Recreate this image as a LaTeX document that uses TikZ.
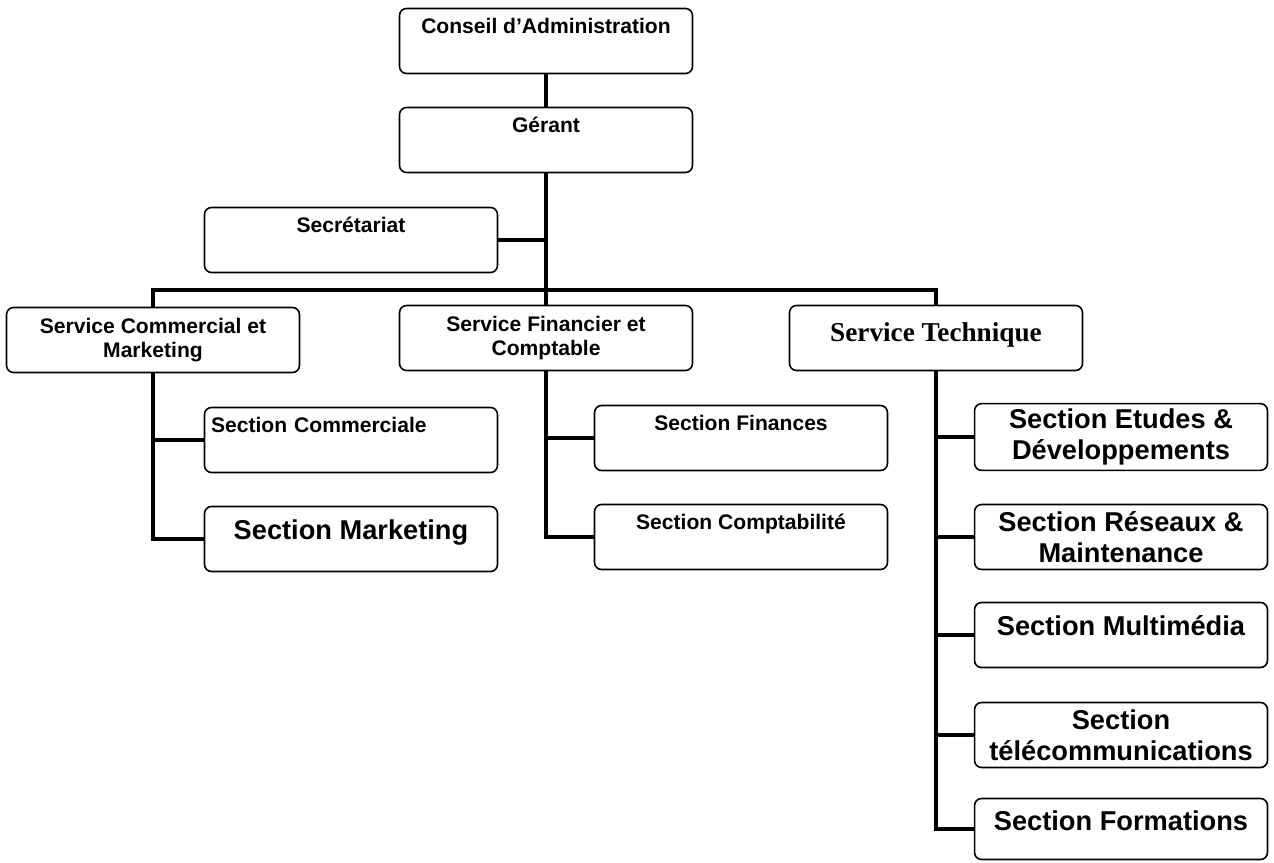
\documentclass[tikz,border=0pt]{standalone}
\usepackage{fontspec}
\setmainfont{Liberation Sans}
\newfontfamily\serifbold{Liberation Serif}
\usetikzlibrary{positioning}

\tikzset{
  orgbox/.style={draw, rounded corners=4pt, line width=0.9pt, minimum width=5.86cm, minimum height=1.3cm,
    inner sep=3pt, align=center, font=\bfseries\fontsize{12}{14}\selectfont},
  bigbox/.style={orgbox, font=\bfseries\fontsize{15.5}{17.5}\selectfont},
  toptext/.style={text height=11.5pt, text depth=19.5pt},
  bigtop/.style={text height=15.5pt, text depth=15.5pt},
  link/.style={line width=2.3pt}
}

\begin{document}
\begin{tikzpicture}[x=0.02cm, y=-0.02cm]
  \useasboundingbox (0,0) rectangle (1274,862);

  % Direction
  \node[orgbox, toptext] (conseil) at (546,41) {Conseil d'Administration};
  \node[orgbox, toptext] (gerant) at (546,140) {Gérant};
  \node[orgbox, toptext] (secretariat) at (351,240) {Secrétariat};
  \coordinate (hub) at (546,290);

  % Services
  \node[orgbox] (commercial) at (153,340) {Service Commercial et\\Marketing};
  \node[orgbox] (financier) at (546,338) {Service Financier et\\Comptable};
  \node[orgbox, text height=17.5pt, text depth=13.5pt, font=\serifbold\bfseries\fontsize{15.5}{17.5}\selectfont] (technique) at (936,338) {Service Technique};

  % Sections of the commercial service
  \node[orgbox, toptext, align=left, text width=5.6cm] (seccom) at (351,440) {Section Commerciale};
  \node[bigbox, bigtop] (secmkt) at (351,539) {Section Marketing};

  % Sections of the financial service
  \node[orgbox, toptext] (secfin) at (741,438) {Section Finances};
  \node[orgbox, toptext] (seccpt) at (741,537) {Section Comptabilité};

  % Sections of the technical service
  \node[bigbox] (etudes) at (1121,437) {Section Etudes \&\\Développements};
  \node[bigbox] (reseaux) at (1121,537) {Section Réseaux \&\\Maintenance};
  \node[bigbox, bigtop] (multimedia) at (1121,635) {Section Multimédia};
  \node[bigbox] (telecom) at (1121,735) {Section\\télécommunications};
  \node[bigbox, minimum height=1.22cm, text height=15pt, text depth=13pt] (formations) at (1121,829) {Section Formations};

  % Links
  \draw[link] (conseil) -- (gerant);
  \draw[link] (gerant) -- (hub);
  \draw[link] (secretariat.east) -- (secretariat.east -| hub);
  \draw[link] (commercial.north) |- (hub) -| (technique.north);
  \draw[link] (hub) -- (financier.north);
  \draw[link] (commercial.south) |- (secmkt.west);
  \draw[link] (seccom.west) -- (seccom.west -| commercial.south);
  \draw[link] (financier.south) |- (seccpt.west);
  \draw[link] (secfin.west) -- (secfin.west -| financier.south);
  \draw[link] (technique.south) |- (formations.west);
  \foreach \sec in {etudes, reseaux, multimedia, telecom}
    \draw[link] (\sec.west) -- (\sec.west -| technique.south);
\end{tikzpicture}
\end{document}
